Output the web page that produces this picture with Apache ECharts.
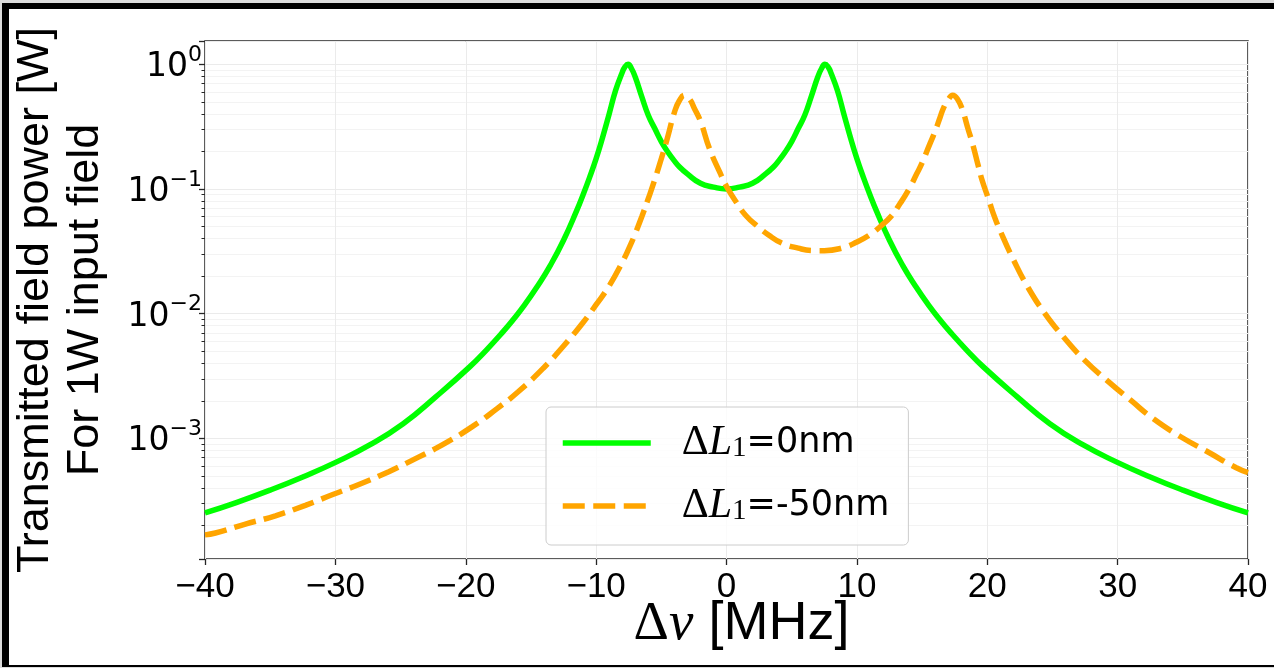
<!DOCTYPE html>
<html>
<head>
<meta charset="utf-8">
<title>Transmitted field power</title>
<script src="https://cdn.jsdelivr.net/npm/echarts@6/dist/echarts.min.js"></script>
<style>
  html, body { margin: 0; padding: 0; background: #dcdcdc; }
  #frame {
    position: absolute; left: 2px; top: 3px; width: 1272px; height: 664px;
    box-sizing: border-box; background: #fff;
    border-left: 7px solid #000; border-top: 6px solid #000; border-bottom: 2px solid #000;
  }
  #chart { position: absolute; left: 0; top: 0; width: 1274px; height: 668px; }
</style>
</head>
<body>
<div id="frame"></div>
<div id="chart"></div>
<script>
// Detuning (MHz) and transmitted power (W) for the aligned cavity, ΔL1 = 0 nm
const detuningGreen = [-40,-37.6,-35,-32.5,-29.9,-27.4,-24.8,-22.3,-19.7,-18.4,-17.1,-16.4,-15.5,-14.5,-13.5,-12.5,-11.5,-11,-10.5,-10,
  -9.5,-9,-8.5,-8,-7.8,-7.55,-7.3,-7,-6.5,-6,-5.5,-5,-4.5,-4,-3.6,-3,-2,-1,0,
  1,2,3,3.6,4,4.5,5,5.5,6,6.5,7,7.3,7.55,7.8,8,8.5,9,9.5,
  10,10.5,11,11.5,12.5,13.5,14.5,15.5,16.4,17.1,18.4,19.7,22.3,24.8,27.4,29.9,32.5,35,37.6,40];
const powerGreen = [2.52e-4,3.05e-4,3.84e-4,4.9e-4,6.47e-4,8.8e-4,1.31e-3,2.15e-3,3.74e-3,5.13e-3,7.24e-3,8.85e-3,1.17e-2,1.66e-2,2.45e-2,3.88e-2,6.67e-2,9.0e-2,0.124,0.175,
  0.26,0.40,0.62,0.86,0.95,1.0,0.93,0.79,0.55,0.39,0.305,0.240,0.198,0.168,0.150,0.132,0.111,0.1035,0.100,
  0.1035,0.111,0.132,0.150,0.168,0.198,0.240,0.305,0.39,0.55,0.79,0.93,1.0,0.95,0.86,0.62,0.40,0.26,
  0.175,0.124,9.0e-2,6.67e-2,3.88e-2,2.45e-2,1.66e-2,1.17e-2,8.85e-3,7.24e-3,5.13e-3,3.74e-3,2.15e-3,1.31e-3,8.8e-4,6.47e-4,4.9e-4,3.84e-4,3.05e-4,2.52e-4];

// Detuning (MHz) and transmitted power (W) for ΔL1 = -50 nm
const detuningOrange = [-40,-39.2,-36.9,-34.6,-32.3,-30.2,-28.1,-25.9,-23.7,-21.6,-19.5,-17.6,-16,-14,-12.5,-11,-10,-9,-8,-7.4,-7,
  -6.5,-6,-5.5,-5,-4.5,-4,-3.6,-3.2,-2.8,-2.5,-2,-1.3,-0.5,0,0.8,1.5,2.4,3.2,4.2,5.5,
  6.6,7.5,8.9,10,11,11.8,12.6,13.3,14,14.6,15,15.6,16,16.4,16.7,17,17.35,17.7,18.1,18.5,
  18.9,19.3,19.6,20.1,20.5,21,22,23.1,24.4,25.9,27.5,29.2,31,32.8,34.9,36.9,39.1,40];
const powerOrange = [1.68e-4,1.74e-4,2.05e-4,2.39e-4,2.9e-4,3.54e-4,4.3e-4,5.4e-4,7.0e-4,9.1e-4,1.24e-3,1.73e-3,2.35e-3,3.7e-3,5.5e-3,8.5e-3,1.18e-2,1.67e-2,2.58e-2,3.5e-2,4.39e-2,
  5.98e-2,8.36e-2,0.119,0.175,0.264,0.41,0.515,0.565,0.52,0.45,0.35,0.21,0.135,0.105,0.077,0.061,0.050,0.043,0.037,0.0335,
  0.0321,0.0320,0.0337,0.0375,0.043,0.050,0.060,0.076,0.100,0.133,0.162,0.23,0.29,0.38,0.46,0.52,0.565,0.53,0.43,0.31,
  0.225,0.155,0.118,0.083,0.062,0.046,0.0272,0.0164,0.0101,0.0064,0.0042,0.0029,0.00202,0.00142,0.00102,0.00078,0.00058,0.00053];

// Legend entries: suffix printed after "ΔL1"
const seriesLabels = ['=0nm', '=-50nm'];
const seriesNames = ['dL0', 'dL50'];

// Axis ranges and labelled decades
const xRange = [-40, 40];
const xStep = 10;
const yRange = [1.076e-4, 1.538];
const yDecades = [-3, -2, -1, 0];

const SANS = 'Liberation Sans, Arial, Helvetica, sans-serif';
const DEJAVU = 'DejaVu Sans, sans-serif';
const SERIF = 'Liberation Serif, DejaVu Serif, serif';
const GREEN = '#00ff00';
const ORANGE = '#ffa500';
const LINE_W = 5.5;
const DASH = [22, 8.5];

const pairs = (xs, ys) => xs.map((x, i) => [x, ys[i]]);

const chart = echarts.init(document.getElementById('chart'), null, { renderer: 'canvas' });

chart.setOption({
  animation: false,
  backgroundColor: 'transparent',
  grid: {
    left: 205, right: 26, top: 41, bottom: 109,
    show: true, borderColor: '#262626', borderWidth: 1.5,
    backgroundColor: 'transparent',
    containLabel: false, outerBoundsMode: 'none'
  },
  xAxis: {
    type: 'value',
    min: xRange[0], max: xRange[1], interval: xStep,
    axisLine: { show: false, onZero: false },
    axisTick: { show: true, inside: false, length: 6, lineStyle: { color: '#262626', width: 1.3 } },
    axisLabel: {
      show: true, margin: 11, fontSize: 35, fontFamily: SANS, color: '#000',
      formatter: v => (v < 0 ? '\u2212' + Math.abs(v) : String(v))
    },
    splitLine: { show: true, lineStyle: { color: '#ebebeb', width: 1 } },
    name: '{d|Δ}{n|ν}{t| [MHz]}',
    nameLocation: 'middle', nameGap: 38, nameMoveOverlap: false,
    nameTextStyle: {
      color: '#000', padding: [0, 0, 0, 30],
      rich: {
        d: { fontFamily: SERIF, fontSize: 55, color: '#000' },
        n: { fontFamily: SERIF, fontStyle: 'italic', fontSize: 55, color: '#000' },
        t: { fontFamily: SANS, fontSize: 54, color: '#000' }
      }
    }
  },
  yAxis: {
    type: 'log', logBase: 10,
    min: yRange[0], max: yRange[1],
    axisLine: { show: false, onZero: false },
    axisTick: { show: true, inside: false, length: 6, lineStyle: { color: '#262626', width: 1.3 } },
    minorTick: { show: true, splitNumber: 9, length: 3.5, lineStyle: { color: '#262626', width: 1 } },
    axisLabel: {
      show: true, margin: 3, color: '#000',
      formatter: v => {
        const e = Math.log10(v);
        const r = Math.round(e);
        if (Math.abs(e - r) > 1e-6 || yDecades.indexOf(r) < 0) return '';
        return '{b|10}{s|' + (r < 0 ? '\u2212' + (-r) : r) + '}';
      },
      rich: {
        b: { fontFamily: DEJAVU, fontSize: 33, lineHeight: 40, verticalAlign: 'bottom', color: '#000' },
        s: { fontFamily: DEJAVU, fontSize: 22, lineHeight: 22, verticalAlign: 'top', color: '#000' }
      }
    },
    splitLine: { show: true, lineStyle: { color: '#ebebeb', width: 1 } },
    minorSplitLine: { show: true, lineStyle: { color: '#f3f3f3', width: 1 } },
    name: 'Transmitted field power [W]\nFor 1W input field',
    nameLocation: 'middle', nameRotate: 90, nameGap: 94, nameMoveOverlap: false,
    nameTextStyle: { fontFamily: SANS, fontSize: 45, lineHeight: 50, color: '#000', align: 'center' }
  },
  legend: {
    orient: 'vertical', left: 546, top: 407,
    padding: [15, 19, 18, 14], itemGap: 21, itemWidth: 88, itemHeight: 20,
    backgroundColor: 'rgba(255,255,255,0.8)', borderColor: '#cccccc', borderWidth: 1, borderRadius: 5,
    itemStyle: { opacity: 0 },
    lineStyle: { width: LINE_W },
    data: seriesNames,
    formatter: name => '{d|Δ}{l|L}{s|1}{t|' + seriesLabels[seriesNames.indexOf(name)] + '}',
    textStyle: {
      color: '#000',
      rich: {
        d: { fontFamily: SERIF, fontSize: 42, lineHeight: 40, color: '#000', padding: [0, 0, 0, 26] },
        l: { fontFamily: SERIF, fontStyle: 'italic', fontSize: 42, lineHeight: 40, color: '#000' },
        s: { fontFamily: SERIF, fontSize: 29, lineHeight: 40, verticalAlign: 'bottom', color: '#000' },
        t: { fontFamily: DEJAVU, fontSize: 35, lineHeight: 40, color: '#000' }
      }
    }
  },
  series: [
    {
      name: seriesNames[0], type: 'line', data: pairs(detuningGreen, powerGreen),
      symbol: 'none', smooth: 0.5, clip: true,
      lineStyle: { color: GREEN, width: LINE_W, cap: 'butt' },
      itemStyle: { color: GREEN }, z: 3
    },
    {
      name: seriesNames[1], type: 'line', data: pairs(detuningOrange, powerOrange),
      symbol: 'none', smooth: 0.5, clip: true,
      lineStyle: { color: ORANGE, width: LINE_W, type: DASH, cap: 'butt' },
      itemStyle: { color: ORANGE }, z: 4
    }
  ]
});
</script>
</body>
</html>
